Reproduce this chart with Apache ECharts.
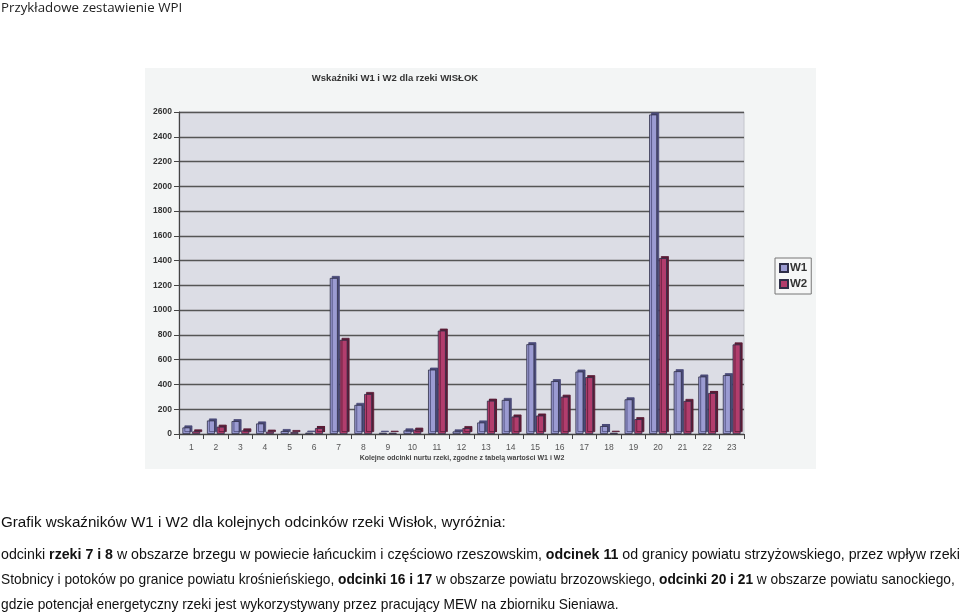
<!DOCTYPE html>
<html><head><meta charset="utf-8">
<script src="https://cdn.jsdelivr.net/npm/echarts@6/dist/echarts.min.js"></script>
<style>html,body{margin:0;padding:0;background:#fff}#c{width:960px;height:613px}</style>
</head><body><div id="c"></div>
<script>
const categories = ['1','2','3','4','5','6','7','8','9','10','11','12','13','14','15','16','17','18','19','20','21','22','23'];
const w1 = [53,109,104,85,24,11,1260,235,10,29,520,21,93,275,725,427,504,64,280,2580,507,464,475];
const w2 = [21,59,29,19,16,48,760,323,10,35,835,48,269,141,149,301,459,10,120,1420,267,331,723];
const seriesNames = ['W1','W2'];
const yTicks = {min:0, max:2600, interval:200};

const chart = echarts.init(document.getElementById('c'), null, {renderer:'canvas'});
const sans = 'Liberation Sans, Arial, sans-serif';
function barStyle(fill, side){
  return {color:fill, borderColor:'#2e2e48', borderWidth:0.8,
          shadowColor:side, shadowOffsetX:2, shadowOffsetY:-2, shadowBlur:0.01};
}
function rich(sz){ return {n:{font:sz+'px '+sans, fill:'#111'}, b:{font:'bold '+sz+'px '+sans, fill:'#111'}}; }
chart.setOption({
  animation:false,
  backgroundColor:'#ffffff',
  graphic:[
    {type:'rect', left:145, top:68, shape:{width:671, height:401}, style:{fill:'#f3f5f5'}, z:-10},
    {type:'text', left:1, top:2, style:{text:'Przykładowe zestawienie WPI', font:'13.3px "Open Sans", sans-serif', fill:'#222'}},
    {type:'text', x:395, y:78, style:{text:'Wskaźniki W1 i W2 dla rzeki WISŁOK', font:'bold 9.5px '+sans, fill:'#333', align:'center', verticalAlign:'middle'}},
    {type:'text', x:462, y:458, style:{text:'Kolejne odcinki nurtu rzeki, zgodne z tabelą wartości W1 i W2', font:'bold 7px '+sans, fill:'#444', align:'center', verticalAlign:'middle'}},
    {type:'text', left:1, top:515, style:{text:'Grafik wskaźników W1 i W2 dla kolejnych odcinków rzeki Wisłok, wyróżnia:', font:'15.2px '+sans, fill:'#111'}},
    {type:'text', left:1, top:548, style:{
      text:'{n|odcinki }{b|rzeki 7 i 8}{n| w obszarze brzegu w powiecie łańcuckim i częściowo rzeszowskim, }{b|odcinek 11}{n| od granicy powiatu strzyżowskiego, przez wpływ rzeki}',
      rich:rich(14.2)}},
    {type:'text', left:1, top:573, style:{
      text:'{n|Stobnicy i potoków po granice powiatu krośnieńskiego, }{b|odcinki 16 i 17}{n| w obszarze powiatu brzozowskiego, }{b|odcinki 20 i 21}{n| w obszarze powiatu sanockiego,}',
      rich:rich(13.75)}},
    {type:'text', left:1, top:598, style:{text:'gdzie potencjał energetyczny rzeki jest wykorzystywany przez pracujący MEW na zbiorniku Sieniawa.', font:'13.75px '+sans, fill:'#111'}}
  ],
  legend:{
    data:seriesNames, orient:'vertical', left:775, top:258,
    itemWidth:8, itemHeight:8, itemGap:4, padding:[4,4,4,4],
    backgroundColor:'#f6f7f7', borderColor:'#777', borderWidth:1,
    icon:'rect',
    textStyle:{fontSize:11.5, fontWeight:'bold', fontFamily:'Liberation Sans', color:'#333', padding:[0,0,0,-3]}
  },
  grid:{left:179, right:216, top:112, height:322, show:true, backgroundColor:'#dcdde5', borderColor:'#c4c5cc', borderWidth:1},
  xAxis:{
    type:'category', data:categories,
    axisLine:{lineStyle:{color:'#444', width:1.2}},
    axisTick:{show:true, length:5, lineStyle:{color:'#444'}},
    axisLabel:{fontSize:8.5, color:'#555', fontFamily:'Liberation Sans', margin:9}
  },
  yAxis:{
    type:'value', min:yTicks.min, max:yTicks.max, interval:yTicks.interval,
    axisLine:{show:true, lineStyle:{color:'#444', width:1.2}},
    axisTick:{show:true, length:5, lineStyle:{color:'#444'}},
    axisLabel:{fontSize:8.5, color:'#333', fontWeight:'bold', fontFamily:'Liberation Sans', margin:7, formatter:v=>String(v)},
    splitLine:{lineStyle:{color:'#555', width:1.3}}
  },
  series:[
    {name:'W1', type:'bar', data:w1, barWidth:8, barGap:'22%', itemStyle:barStyle('#9b9bd2','#4a4a78')},
    {name:'W2', type:'bar', data:w2, barWidth:8, itemStyle:barStyle('#b23d6d','#5a1c36')}
  ]
});
</script></body></html>
